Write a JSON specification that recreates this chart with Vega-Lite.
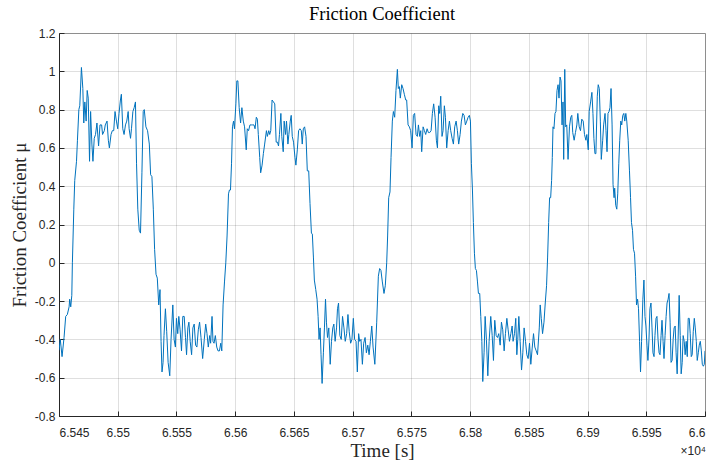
{
  "$schema": "https://vega.github.io/schema/vega-lite/v6.json",
  "width": 646,
  "height": 383,
  "autosize": {"type": "none"},
  "padding": {"left": 59, "top": 33, "right": 9, "bottom": 44},
  "background": "white",
  "title": {
    "text": "Friction Coefficient",
    "font": "Liberation Serif",
    "fontSize": 18.5,
    "fontWeight": "normal",
    "color": "#000000",
    "offset": 4
  },
  "config": {
    "view": {"stroke": "#a0a0a0", "strokeWidth": 1},
    "axis": {
      "labelFont": "Liberation Sans",
      "labelFontSize": 12,
      "labelColor": "#262626",
      "labelOverlap": false,
      "titleFont": "Liberation Serif",
      "titleFontSize": 19,
      "titleFontWeight": "normal",
      "titleColor": "#262626",
      "domainColor": "#262626",
      "domainWidth": 1,
      "tickColor": "#262626",
      "tickSize": -5,
      "tickWidth": 1,
      "gridColor": "#262626",
      "gridOpacity": 0.15,
      "gridWidth": 1
    }
  },
  "resolve": {"axis": {"y": "independent"}},
  "layer": [
    {
      "data": {
        "values": [
          {"t": 65450, "mu": -0.457}, {"t": 65451.1, "mu": -0.40}, {"t": 65452.6, "mu": -0.49}, {"t": 65454.3, "mu": -0.39},
          {"t": 65455.7, "mu": -0.28}, {"t": 65457.1, "mu": -0.27}, {"t": 65458.6, "mu": -0.23}, {"t": 65459.1, "mu": -0.19},
          {"t": 65460, "mu": -0.23}, {"t": 65460.9, "mu": -0.17}, {"t": 65461.4, "mu": 0.0}, {"t": 65462.6, "mu": 0.28},
          {"t": 65463.4, "mu": 0.43}, {"t": 65464.9, "mu": 0.53}, {"t": 65465.7, "mu": 0.64}, {"t": 65466.9, "mu": 0.80},
          {"t": 65467.7, "mu": 0.82}, {"t": 65469.1, "mu": 1.02}, {"t": 65470.3, "mu": 0.91}, {"t": 65471.1, "mu": 0.73},
          {"t": 65472, "mu": 0.84}, {"t": 65473.1, "mu": 0.74}, {"t": 65474, "mu": 0.90}, {"t": 65474.9, "mu": 0.86},
          {"t": 65476, "mu": 0.53}, {"t": 65476.9, "mu": 0.79}, {"t": 65478, "mu": 0.62}, {"t": 65478.9, "mu": 0.53},
          {"t": 65480, "mu": 0.65}, {"t": 65481.1, "mu": 0.67}, {"t": 65482.3, "mu": 0.73}, {"t": 65483.7, "mu": 0.61},
          {"t": 65484.9, "mu": 0.72}, {"t": 65486.3, "mu": 0.72}, {"t": 65487.1, "mu": 0.67}, {"t": 65488.6, "mu": 0.69},
          {"t": 65489.4, "mu": 0.72}, {"t": 65490.9, "mu": 0.74}, {"t": 65492, "mu": 0.64}, {"t": 65492.9, "mu": 0.60},
          {"t": 65494.3, "mu": 0.67}, {"t": 65495.4, "mu": 0.69}, {"t": 65496.6, "mu": 0.69}, {"t": 65497.7, "mu": 0.79},
          {"t": 65498.9, "mu": 0.74}, {"t": 65500, "mu": 0.70}, {"t": 65501.1, "mu": 0.78}, {"t": 65502.3, "mu": 0.85},
          {"t": 65503.1, "mu": 0.88}, {"t": 65504.3, "mu": 0.70}, {"t": 65505.4, "mu": 0.67}, {"t": 65506.6, "mu": 0.72},
          {"t": 65507.7, "mu": 0.74}, {"t": 65508.9, "mu": 0.79}, {"t": 65509.7, "mu": 0.70}, {"t": 65510.9, "mu": 0.65},
          {"t": 65511.7, "mu": 0.70}, {"t": 65512.9, "mu": 0.79}, {"t": 65514, "mu": 0.81}, {"t": 65515.1, "mu": 0.84},
          {"t": 65516, "mu": 0.52}, {"t": 65517.1, "mu": 0.28}, {"t": 65518.3, "mu": 0.17}, {"t": 65519.4, "mu": 0.155},
          {"t": 65520.6, "mu": 0.47}, {"t": 65521.7, "mu": 0.79}, {"t": 65522.6, "mu": 0.80}, {"t": 65524, "mu": 0.71},
          {"t": 65525.4, "mu": 0.69}, {"t": 65526.9, "mu": 0.62}, {"t": 65528, "mu": 0.46}, {"t": 65529.1, "mu": 0.45},
          {"t": 65530.3, "mu": 0.28}, {"t": 65531.4, "mu": 0.07}, {"t": 65532.6, "mu": -0.06}, {"t": 65533.7, "mu": -0.08},
          {"t": 65534.9, "mu": -0.22}, {"t": 65536, "mu": -0.14}, {"t": 65536.9, "mu": -0.41}, {"t": 65537.7, "mu": -0.57},
          {"t": 65538.6, "mu": -0.52}, {"t": 65539.4, "mu": -0.38}, {"t": 65540.6, "mu": -0.24}, {"t": 65541.7, "mu": -0.36},
          {"t": 65542.9, "mu": -0.52}, {"t": 65544.3, "mu": -0.59}, {"t": 65545.4, "mu": -0.40}, {"t": 65546.9, "mu": -0.22},
          {"t": 65548, "mu": -0.40}, {"t": 65549.1, "mu": -0.44}, {"t": 65550, "mu": -0.29}, {"t": 65551.1, "mu": -0.37},
          {"t": 65552, "mu": -0.28}, {"t": 65553.1, "mu": -0.35}, {"t": 65554.3, "mu": -0.46}, {"t": 65555.4, "mu": -0.28},
          {"t": 65556.6, "mu": -0.28}, {"t": 65557.7, "mu": -0.39}, {"t": 65558.6, "mu": -0.48}, {"t": 65559.7, "mu": -0.34},
          {"t": 65560.6, "mu": -0.31}, {"t": 65561.7, "mu": -0.41}, {"t": 65562.9, "mu": -0.48}, {"t": 65564, "mu": -0.34},
          {"t": 65565.1, "mu": -0.32}, {"t": 65566.3, "mu": -0.43}, {"t": 65567.4, "mu": -0.44}, {"t": 65568.6, "mu": -0.35},
          {"t": 65569.7, "mu": -0.31}, {"t": 65570.9, "mu": -0.39}, {"t": 65572.3, "mu": -0.50}, {"t": 65573.7, "mu": -0.40},
          {"t": 65574.9, "mu": -0.32}, {"t": 65576, "mu": -0.37}, {"t": 65577.1, "mu": -0.44}, {"t": 65578.3, "mu": -0.38},
          {"t": 65579.1, "mu": -0.42}, {"t": 65580.3, "mu": -0.28}, {"t": 65581.1, "mu": -0.41}, {"t": 65582, "mu": -0.42},
          {"t": 65583.1, "mu": -0.38}, {"t": 65584.3, "mu": -0.44}, {"t": 65585.4, "mu": -0.46}, {"t": 65586.6, "mu": -0.46},
          {"t": 65587.7, "mu": -0.42}, {"t": 65588.6, "mu": -0.46}, {"t": 65589.7, "mu": -0.22}, {"t": 65590.9, "mu": -0.10},
          {"t": 65592, "mu": 0.0}, {"t": 65593.1, "mu": 0.14}, {"t": 65594.3, "mu": 0.36}, {"t": 65595.1, "mu": 0.38},
          {"t": 65596, "mu": 0.38}, {"t": 65596.9, "mu": 0.52}, {"t": 65597.7, "mu": 0.71}, {"t": 65598.6, "mu": 0.74},
          {"t": 65599.4, "mu": 0.70}, {"t": 65600.6, "mu": 0.83}, {"t": 65601.4, "mu": 0.95}, {"t": 65602.3, "mu": 0.95},
          {"t": 65603.4, "mu": 0.81}, {"t": 65604.6, "mu": 0.73}, {"t": 65605.7, "mu": 0.81}, {"t": 65606.9, "mu": 0.74},
          {"t": 65608, "mu": 0.71}, {"t": 65609.4, "mu": 0.59}, {"t": 65610.3, "mu": 0.70}, {"t": 65611.4, "mu": 0.69},
          {"t": 65612.6, "mu": 0.72}, {"t": 65613.7, "mu": 0.72}, {"t": 65614.9, "mu": 0.72}, {"t": 65616, "mu": 0.72},
          {"t": 65616.9, "mu": 0.70}, {"t": 65618, "mu": 0.76}, {"t": 65618.9, "mu": 0.75}, {"t": 65619.7, "mu": 0.67},
          {"t": 65620.9, "mu": 0.55}, {"t": 65621.7, "mu": 0.47}, {"t": 65622.9, "mu": 0.51}, {"t": 65624, "mu": 0.57},
          {"t": 65625.1, "mu": 0.62}, {"t": 65626.6, "mu": 0.69}, {"t": 65627.4, "mu": 0.66}, {"t": 65628.6, "mu": 0.69},
          {"t": 65629.4, "mu": 0.67}, {"t": 65630.3, "mu": 0.69}, {"t": 65631.4, "mu": 0.85}, {"t": 65632.6, "mu": 0.84},
          {"t": 65633.7, "mu": 0.83}, {"t": 65634.9, "mu": 0.63}, {"t": 65636, "mu": 0.63}, {"t": 65636.9, "mu": 0.61},
          {"t": 65637.7, "mu": 0.67}, {"t": 65638.9, "mu": 0.78}, {"t": 65639.7, "mu": 0.66}, {"t": 65640.9, "mu": 0.58},
          {"t": 65641.7, "mu": 0.74}, {"t": 65642.9, "mu": 0.67}, {"t": 65643.7, "mu": 0.74}, {"t": 65644.9, "mu": 0.62},
          {"t": 65645.7, "mu": 0.67}, {"t": 65646.9, "mu": 0.74}, {"t": 65647.7, "mu": 0.77}, {"t": 65648.6, "mu": 0.66},
          {"t": 65649.7, "mu": 0.63}, {"t": 65650.9, "mu": 0.55}, {"t": 65651.7, "mu": 0.51}, {"t": 65652.9, "mu": 0.59},
          {"t": 65654, "mu": 0.69}, {"t": 65655.1, "mu": 0.70}, {"t": 65656.3, "mu": 0.69}, {"t": 65657.1, "mu": 0.62},
          {"t": 65658, "mu": 0.70}, {"t": 65659.1, "mu": 0.71}, {"t": 65660.3, "mu": 0.66}, {"t": 65661.4, "mu": 0.48},
          {"t": 65662.6, "mu": 0.48}, {"t": 65663.7, "mu": 0.31}, {"t": 65664.9, "mu": 0.155}, {"t": 65665.7, "mu": 0.15},
          {"t": 65666.6, "mu": 0.03}, {"t": 65667.4, "mu": -0.09}, {"t": 65668.6, "mu": -0.14}, {"t": 65669.7, "mu": -0.19},
          {"t": 65670.6, "mu": -0.28}, {"t": 65671.4, "mu": -0.40}, {"t": 65672.3, "mu": -0.34}, {"t": 65673.1, "mu": -0.48},
          {"t": 65674, "mu": -0.63}, {"t": 65675.1, "mu": -0.47}, {"t": 65676, "mu": -0.34}, {"t": 65676.9, "mu": -0.19},
          {"t": 65677.7, "mu": -0.31}, {"t": 65678.6, "mu": -0.39}, {"t": 65679.7, "mu": -0.34}, {"t": 65680.9, "mu": -0.53},
          {"t": 65682, "mu": -0.41}, {"t": 65683.1, "mu": -0.34}, {"t": 65684, "mu": -0.32}, {"t": 65685.1, "mu": -0.41},
          {"t": 65686.3, "mu": -0.34}, {"t": 65687.1, "mu": -0.24}, {"t": 65688, "mu": -0.21}, {"t": 65689.1, "mu": -0.38},
          {"t": 65690.3, "mu": -0.40}, {"t": 65691.4, "mu": -0.28}, {"t": 65692.6, "mu": -0.34}, {"t": 65693.7, "mu": -0.41},
          {"t": 65694.9, "mu": -0.37}, {"t": 65696, "mu": -0.27}, {"t": 65697.1, "mu": -0.36}, {"t": 65698.3, "mu": -0.42},
          {"t": 65699.4, "mu": -0.40}, {"t": 65700.6, "mu": -0.29}, {"t": 65701.7, "mu": -0.40}, {"t": 65702.9, "mu": -0.41},
          {"t": 65704, "mu": -0.57}, {"t": 65705.1, "mu": -0.37}, {"t": 65706, "mu": -0.41}, {"t": 65707.1, "mu": -0.40},
          {"t": 65708.3, "mu": -0.53}, {"t": 65709.4, "mu": -0.42}, {"t": 65710.6, "mu": -0.39}, {"t": 65711.7, "mu": -0.47},
          {"t": 65712.9, "mu": -0.43}, {"t": 65714, "mu": -0.48}, {"t": 65715.1, "mu": -0.41}, {"t": 65716.3, "mu": -0.33},
          {"t": 65717.4, "mu": -0.44}, {"t": 65718.9, "mu": -0.53}, {"t": 65720.5, "mu": -0.31}, {"t": 65721.9, "mu": -0.07},
          {"t": 65723, "mu": -0.03}, {"t": 65724.1, "mu": -0.04}, {"t": 65725.3, "mu": -0.10}, {"t": 65726.7, "mu": -0.16},
          {"t": 65727.8, "mu": -0.12}, {"t": 65729, "mu": 0.0}, {"t": 65729.8, "mu": 0.14}, {"t": 65730.7, "mu": 0.34},
          {"t": 65731.8, "mu": 0.37}, {"t": 65732.7, "mu": 0.55}, {"t": 65733.8, "mu": 0.74}, {"t": 65734.7, "mu": 0.79},
          {"t": 65735.8, "mu": 0.76}, {"t": 65736.9, "mu": 0.90}, {"t": 65738.1, "mu": 1.01}, {"t": 65738.9, "mu": 0.91},
          {"t": 65739.8, "mu": 0.92}, {"t": 65740.6, "mu": 0.86}, {"t": 65741.8, "mu": 0.93}, {"t": 65742.9, "mu": 0.91},
          {"t": 65744, "mu": 0.88}, {"t": 65745.2, "mu": 0.85}, {"t": 65746, "mu": 0.85}, {"t": 65747.2, "mu": 0.72},
          {"t": 65748.3, "mu": 0.71}, {"t": 65749.4, "mu": 0.69}, {"t": 65750.6, "mu": 0.60}, {"t": 65751.7, "mu": 0.77},
          {"t": 65752.8, "mu": 0.78}, {"t": 65754, "mu": 0.67}, {"t": 65755.1, "mu": 0.66}, {"t": 65756, "mu": 0.72},
          {"t": 65757.1, "mu": 0.66}, {"t": 65758, "mu": 0.69}, {"t": 65758.8, "mu": 0.58}, {"t": 65760, "mu": 0.71},
          {"t": 65761.1, "mu": 0.69}, {"t": 65762.2, "mu": 0.67}, {"t": 65763.4, "mu": 0.70}, {"t": 65764.5, "mu": 0.68},
          {"t": 65765.6, "mu": 0.68}, {"t": 65766.8, "mu": 0.69}, {"t": 65767.9, "mu": 0.78}, {"t": 65769, "mu": 0.83},
          {"t": 65770.2, "mu": 0.76}, {"t": 65771.3, "mu": 0.64}, {"t": 65772.2, "mu": 0.60}, {"t": 65773.3, "mu": 0.82},
          {"t": 65774.1, "mu": 0.78}, {"t": 65775, "mu": 0.87}, {"t": 65776.1, "mu": 0.66}, {"t": 65777, "mu": 0.69},
          {"t": 65778.1, "mu": 0.82}, {"t": 65779, "mu": 0.76}, {"t": 65780.1, "mu": 0.60}, {"t": 65781.3, "mu": 0.69},
          {"t": 65782.4, "mu": 0.74}, {"t": 65783.5, "mu": 0.69}, {"t": 65784.7, "mu": 0.65}, {"t": 65785.8, "mu": 0.62},
          {"t": 65786.9, "mu": 0.71}, {"t": 65788.1, "mu": 0.74}, {"t": 65789.2, "mu": 0.69}, {"t": 65790.3, "mu": 0.62},
          {"t": 65791.5, "mu": 0.67}, {"t": 65792.6, "mu": 0.74}, {"t": 65793.8, "mu": 0.78}, {"t": 65794.9, "mu": 0.77},
          {"t": 65796, "mu": 0.72}, {"t": 65797.2, "mu": 0.74}, {"t": 65798.3, "mu": 0.76}, {"t": 65799.4, "mu": 0.77},
          {"t": 65800.3, "mu": 0.74}, {"t": 65801.1, "mu": 0.52}, {"t": 65802, "mu": 0.38}, {"t": 65802.8, "mu": 0.21},
          {"t": 65803.7, "mu": 0.05}, {"t": 65804.5, "mu": -0.03}, {"t": 65805.4, "mu": -0.04}, {"t": 65806.3, "mu": -0.10},
          {"t": 65807.1, "mu": -0.16}, {"t": 65808.2, "mu": -0.16}, {"t": 65809.1, "mu": -0.28}, {"t": 65810, "mu": -0.41},
          {"t": 65810.8, "mu": -0.62}, {"t": 65811.9, "mu": -0.47}, {"t": 65812.8, "mu": -0.28}, {"t": 65813.9, "mu": -0.40},
          {"t": 65815.1, "mu": -0.59}, {"t": 65816.2, "mu": -0.41}, {"t": 65817.6, "mu": -0.28}, {"t": 65818.8, "mu": -0.38},
          {"t": 65819.9, "mu": -0.51}, {"t": 65821, "mu": -0.30}, {"t": 65822.2, "mu": -0.38}, {"t": 65823.3, "mu": -0.39},
          {"t": 65824.4, "mu": -0.37}, {"t": 65825.6, "mu": -0.43}, {"t": 65826.7, "mu": -0.31}, {"t": 65827.8, "mu": -0.35},
          {"t": 65829, "mu": -0.46}, {"t": 65830.1, "mu": -0.37}, {"t": 65831.3, "mu": -0.29}, {"t": 65832.4, "mu": -0.35},
          {"t": 65833.5, "mu": -0.41}, {"t": 65834.7, "mu": -0.37}, {"t": 65835.8, "mu": -0.33}, {"t": 65836.6, "mu": -0.41},
          {"t": 65837.8, "mu": -0.37}, {"t": 65838.9, "mu": -0.29}, {"t": 65839.8, "mu": -0.48}, {"t": 65840.6, "mu": -0.40},
          {"t": 65841.5, "mu": -0.28}, {"t": 65842.6, "mu": -0.41}, {"t": 65843.8, "mu": -0.56}, {"t": 65844.9, "mu": -0.47},
          {"t": 65846, "mu": -0.34}, {"t": 65847.2, "mu": -0.41}, {"t": 65848.3, "mu": -0.48}, {"t": 65849.4, "mu": -0.50},
          {"t": 65850.6, "mu": -0.42}, {"t": 65851.7, "mu": -0.53}, {"t": 65852.8, "mu": -0.45}, {"t": 65854, "mu": -0.37},
          {"t": 65855.1, "mu": -0.44}, {"t": 65856.3, "mu": -0.46}, {"t": 65857.4, "mu": -0.48}, {"t": 65858.9, "mu": -0.34},
          {"t": 65859.7, "mu": -0.22}, {"t": 65860.6, "mu": -0.29}, {"t": 65861.7, "mu": -0.37}, {"t": 65862.9, "mu": -0.31},
          {"t": 65864, "mu": -0.21}, {"t": 65865.1, "mu": -0.12}, {"t": 65866, "mu": 0.03}, {"t": 65866.9, "mu": 0.21},
          {"t": 65867.7, "mu": 0.34}, {"t": 65868.6, "mu": 0.34}, {"t": 65869.4, "mu": 0.43}, {"t": 65870, "mu": 0.55},
          {"t": 65870.6, "mu": 0.71}, {"t": 65871.4, "mu": 0.70}, {"t": 65872.3, "mu": 0.78}, {"t": 65873.1, "mu": 0.79},
          {"t": 65874, "mu": 0.90}, {"t": 65874.9, "mu": 0.93}, {"t": 65875.7, "mu": 0.86}, {"t": 65876.6, "mu": 0.97},
          {"t": 65877.4, "mu": 0.95}, {"t": 65878.3, "mu": 0.72}, {"t": 65879.1, "mu": 0.84}, {"t": 65879.7, "mu": 0.54},
          {"t": 65880.6, "mu": 1.01}, {"t": 65881.4, "mu": 0.71}, {"t": 65882.3, "mu": 0.72}, {"t": 65883.4, "mu": 0.54},
          {"t": 65884.6, "mu": 0.71}, {"t": 65885.7, "mu": 0.76}, {"t": 65886.6, "mu": 0.77}, {"t": 65887.4, "mu": 0.68},
          {"t": 65888.6, "mu": 0.64}, {"t": 65889.7, "mu": 0.68}, {"t": 65890.9, "mu": 0.72}, {"t": 65891.7, "mu": 0.78},
          {"t": 65892.9, "mu": 0.71}, {"t": 65894, "mu": 0.69}, {"t": 65895.1, "mu": 0.75}, {"t": 65896.3, "mu": 0.74},
          {"t": 65897.4, "mu": 0.67}, {"t": 65898.6, "mu": 0.64}, {"t": 65899.4, "mu": 0.67}, {"t": 65900.6, "mu": 0.59},
          {"t": 65901.4, "mu": 0.79}, {"t": 65902.6, "mu": 0.84}, {"t": 65903.7, "mu": 0.89}, {"t": 65904.6, "mu": 0.78},
          {"t": 65905.4, "mu": 0.65}, {"t": 65906.3, "mu": 0.57}, {"t": 65907.1, "mu": 0.57}, {"t": 65908.3, "mu": 0.87},
          {"t": 65909.1, "mu": 0.93}, {"t": 65910, "mu": 0.91}, {"t": 65910.9, "mu": 0.74}, {"t": 65911.7, "mu": 0.54},
          {"t": 65912.9, "mu": 0.64}, {"t": 65913.7, "mu": 0.72}, {"t": 65914.9, "mu": 0.78}, {"t": 65915.7, "mu": 0.69},
          {"t": 65916.6, "mu": 0.58}, {"t": 65917.4, "mu": 0.78}, {"t": 65918.3, "mu": 0.79}, {"t": 65919.1, "mu": 0.81},
          {"t": 65920, "mu": 0.91}, {"t": 65920.9, "mu": 0.72}, {"t": 65921.7, "mu": 0.41}, {"t": 65922.6, "mu": 0.34},
          {"t": 65923.1, "mu": 0.39}, {"t": 65924, "mu": 0.30}, {"t": 65924.9, "mu": 0.28}, {"t": 65925.7, "mu": 0.36},
          {"t": 65926.6, "mu": 0.52}, {"t": 65927.4, "mu": 0.64}, {"t": 65928.3, "mu": 0.74}, {"t": 65929.1, "mu": 0.72},
          {"t": 65930, "mu": 0.77}, {"t": 65930.9, "mu": 0.78}, {"t": 65931.7, "mu": 0.74}, {"t": 65932.6, "mu": 0.78},
          {"t": 65933.4, "mu": 0.74}, {"t": 65934.6, "mu": 0.64}, {"t": 65935.7, "mu": 0.48}, {"t": 65936.6, "mu": 0.34},
          {"t": 65937.4, "mu": 0.21}, {"t": 65938.3, "mu": 0.17}, {"t": 65939.1, "mu": 0.07}, {"t": 65940, "mu": 0.05},
          {"t": 65940.9, "mu": -0.07}, {"t": 65941.7, "mu": -0.22}, {"t": 65942.6, "mu": -0.19}, {"t": 65943.4, "mu": -0.24},
          {"t": 65944.3, "mu": -0.41}, {"t": 65945.1, "mu": -0.57}, {"t": 65946, "mu": -0.41}, {"t": 65947.1, "mu": -0.19},
          {"t": 65948, "mu": -0.09}, {"t": 65948.9, "mu": -0.28}, {"t": 65949.7, "mu": -0.33}, {"t": 65950.6, "mu": -0.43},
          {"t": 65951.4, "mu": -0.51}, {"t": 65952.3, "mu": -0.40}, {"t": 65953.1, "mu": -0.24}, {"t": 65954, "mu": -0.21},
          {"t": 65954.9, "mu": -0.34}, {"t": 65955.7, "mu": -0.47}, {"t": 65956.6, "mu": -0.49}, {"t": 65957.4, "mu": -0.38},
          {"t": 65958.3, "mu": -0.29}, {"t": 65959.1, "mu": -0.28}, {"t": 65960, "mu": -0.40}, {"t": 65960.9, "mu": -0.47},
          {"t": 65961.7, "mu": -0.48}, {"t": 65962.6, "mu": -0.38}, {"t": 65963.4, "mu": -0.30}, {"t": 65964.3, "mu": -0.41},
          {"t": 65965.1, "mu": -0.50}, {"t": 65966, "mu": -0.38}, {"t": 65966.9, "mu": -0.28}, {"t": 65967.7, "mu": -0.21},
          {"t": 65968.6, "mu": -0.19}, {"t": 65969.4, "mu": -0.16}, {"t": 65970.3, "mu": -0.31}, {"t": 65971.1, "mu": -0.52},
          {"t": 65972, "mu": -0.51}, {"t": 65972.9, "mu": -0.40}, {"t": 65973.7, "mu": -0.34}, {"t": 65974.6, "mu": -0.33},
          {"t": 65975.4, "mu": -0.47}, {"t": 65976.3, "mu": -0.58}, {"t": 65977.1, "mu": -0.40}, {"t": 65978, "mu": -0.17},
          {"t": 65978.9, "mu": -0.38}, {"t": 65979.7, "mu": -0.58}, {"t": 65980.6, "mu": -0.52}, {"t": 65981.4, "mu": -0.38},
          {"t": 65982.3, "mu": -0.41}, {"t": 65983.1, "mu": -0.48}, {"t": 65984, "mu": -0.41}, {"t": 65984.9, "mu": -0.49},
          {"t": 65985.7, "mu": -0.29}, {"t": 65986.6, "mu": -0.29}, {"t": 65987.4, "mu": -0.37}, {"t": 65988.3, "mu": -0.49},
          {"t": 65989.1, "mu": -0.48}, {"t": 65990, "mu": -0.36}, {"t": 65990.9, "mu": -0.29}, {"t": 65991.7, "mu": -0.34},
          {"t": 65992.6, "mu": -0.41}, {"t": 65993.4, "mu": -0.51}, {"t": 65994.3, "mu": -0.47}, {"t": 65995.1, "mu": -0.43},
          {"t": 65996, "mu": -0.41}, {"t": 65996.9, "mu": -0.46}, {"t": 65997.7, "mu": -0.53}, {"t": 65998.6, "mu": -0.54},
          {"t": 65999.4, "mu": -0.53}, {"t": 66000, "mu": -0.46}
        ]
      },
      "mark": {"type": "line", "color": "#0072BD", "strokeWidth": 1, "clip": true},
      "encoding": {
        "x": {
          "field": "t",
          "type": "quantitative",
          "scale": {"domain": [65450, 66000], "nice": false, "zero": false},
          "axis": {
            "title": "Time [s]",
            "values": [65450, 65500, 65550, 65600, 65650, 65700, 65750, 65800, 65850, 65900, 65950, 66000],
            "labelExpr": "format(datum.value / 10000, '~g')",
            "labelOverlap": false,
            "labelPadding": 16,
            "titlePadding": 3
          }
        },
        "y": {
          "field": "mu",
          "type": "quantitative",
          "scale": {"domain": [-0.8, 1.2], "nice": false, "zero": false},
          "axis": {
            "title": "Friction Coefficient μ",
            "values": [-0.8, -0.6, -0.4, -0.2, 0, 0.2, 0.4, 0.6, 0.8, 1, 1.2],
            "format": "~g",
            "labelExpr": "replace(datum.label, '−', '-')",
            "labelOverlap": false,
            "labelPadding": 9,
            "titlePadding": 5
          }
        }
      }
    },
    {
      "data": {"values": [{"note": "×10⁴"}]},
      "mark": {
        "type": "text",
        "align": "right",
        "baseline": "middle",
        "font": "Liberation Sans",
        "fontSize": 12,
        "color": "#262626",
        "dx": 1
      },
      "encoding": {
        "x": {"datum": 66000, "type": "quantitative"},
        "y": {"datum": -0.985, "type": "quantitative", "axis": null},
        "text": {"field": "note"}
      }
    }
  ]
}
